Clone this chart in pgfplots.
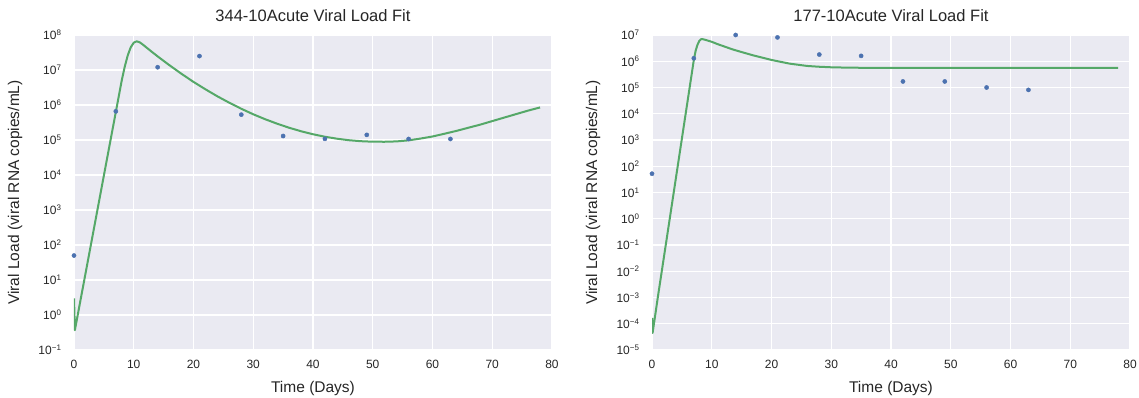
\documentclass[border=0pt]{standalone}
\usepackage{fontspec}
\setmainfont{Liberation Sans}
\usepackage{pgfplots}
\pgfplotsset{compat=1.18}
\definecolor{sbbg}{HTML}{EAEAF2}
\definecolor{sbblue}{HTML}{4C72B0}
\definecolor{sbgreen}{HTML}{55A868}
\definecolor{sbtext}{HTML}{262626}

\pgfplotsset{every axis/.append style={
  scale only axis, width=478pt, height=315pt,
  xmin=0, xmax=80,
  axis background/.style={fill=sbbg},
  axis line style={draw=none},
  grid=major, major grid style={white, line width=1.1pt},
  major tick length=0pt, minor tick length=0pt, tick pos=left,
  xtick={0,10,...,80},
  tick label style={font=\fontsize{12}{14}\selectfont, text=sbtext},
  xticklabel style={yshift=-7pt},
  yticklabel style={xshift=-9pt},
  xlabel style={font=\fontsize{15.5}{18}\selectfont, text=sbtext, at={(axis description cs:0.5,-0.1206)}, anchor=center},
  ylabel style={font=\fontsize{15.5}{18}\selectfont, text=sbtext, at={(axis description cs:-0.1234,0.5)}, anchor=center, rotate=0},
  title style={font=\fontsize{16.5}{19}\selectfont, text=sbtext, at={(axis description cs:0.5,1.041)}, anchor=center},
  /pgf/number format/assume math mode=true,
  xlabel={Time (Days)},
  ylabel={Viral Load (viral RNA copies/mL)},
  anchor=south west,
}}

\begin{document}
\begin{tikzpicture}
\useasboundingbox (0,0) rectangle (1139pt,397pt);
\begin{axis}[ymode=log, at={(74pt,47pt)},
  ymin=1e-1, ymax=1e8,
  ytick={1e-1,1e0,1e1,1e2,1e3,1e4,1e5,1e6,1e7,1e8},
  yticklabels={10\textsuperscript{−1},10\textsuperscript{0},10\textsuperscript{1},10\textsuperscript{2},10\textsuperscript{3},10\textsuperscript{4},10\textsuperscript{5},10\textsuperscript{6},10\textsuperscript{7},10\textsuperscript{8}},
  title={344-10Acute Viral Load Fit}]
\addplot[sbgreen, line width=2pt, line join=round] coordinates {
(0,3.0) (0.15,0.37) (1,2.21) (2,17.9) (3,146) (4,1186) (5,9640) (6,7.83e4) (7,6.31e5)
(7.5,1.8e6) (8,5.13e6) (8.5,1.26e7) (9,2.63e7) (9.5,4.47e7) (10,6.03e7) (10.5,6.61e7)
(11,6.17e7) (11.5,5.37e7) (12,4.57e7) (13,3.33e7) (14,2.45e7) (16,1.36e7) (18,7.76e6)
(20,4.57e6) (22,2.81e6) (24,1.77e6) (26,1.16e6) (28,7.80e5) (30,5.43e5) (32,3.92e5)
(34,2.92e5) (36,2.24e5) (38,1.78e5) (40,1.46e5) (42,1.24e5) (44,1.09e5) (46,9.86e4)
(48,9.25e4) (50,8.93e4) (52,8.91e4) (54,9.12e4) (56,9.77e4)
(58,1.10e5) (60,1.26e5) (62,1.51e5) (64,1.82e5) (66,2.24e5) (68,2.75e5) (70,3.47e5)
(72,4.37e5) (74,5.50e5) (76,6.92e5) (78,8.51e5)
};
\addplot[only marks, mark=*, mark size=2.1pt, sbblue] coordinates {
(0,50) (7,6.6e5) (14,1.2e7) (21,2.5e7) (28,5.3e5) (35,1.3e5) (42,1.08e5) (49,1.4e5) (56,1.07e5) (63,1.07e5)
};
\end{axis}
\begin{axis}[ymode=log, at={(652pt,47pt)},
  ymin=1e-5, ymax=1e7,
  ytick={1e-5,1e-4,1e-3,1e-2,1e-1,1e0,1e1,1e2,1e3,1e4,1e5,1e6,1e7},
  yticklabels={10\textsuperscript{−5},10\textsuperscript{−4},10\textsuperscript{−3},10\textsuperscript{−2},10\textsuperscript{−1},10\textsuperscript{0},10\textsuperscript{1},10\textsuperscript{2},10\textsuperscript{3},10\textsuperscript{4},10\textsuperscript{5},10\textsuperscript{6},10\textsuperscript{7}},
  title={177-10Acute Viral Load Fit}]
\addplot[sbgreen, line width=2pt, line join=round] coordinates {
(0,1.66e-4) (0.1,4.47e-5) (1,1.12e-3) (2,3.55e-2) (3,1.12) (4,35.5) (5,1122) (6,3.55e4)
(7,1.12e6) (7.3,2.51e6) (7.6,4.17e6) (7.9,5.89e6) (8.2,6.92e6) (8.5,6.92e6) (9,6.46e6)
(10,5.50e6) (11,4.47e6) (12,3.72e6) (13.5,2.82e6) (15,2.24e6) (17,1.66e6) (20,1.12e6)
(23,8.13e5) (26,6.61e5) (28,6.17e5) (30,5.89e5) (33,5.69e5) (36,5.62e5)
(40,5.62e5) (50,5.62e5) (60,5.62e5) (70,5.62e5) (78,5.62e5)
};
\addplot[only marks, mark=*, mark size=2.1pt, sbblue] coordinates {
(0,52) (7,1.3e6) (14,1.0e7) (21,8.1e6) (28,1.8e6) (35,1.6e6) (42,1.7e5) (49,1.7e5) (56,1.0e5) (63,8.1e4)
};
\end{axis}
\end{tikzpicture}
\end{document}
